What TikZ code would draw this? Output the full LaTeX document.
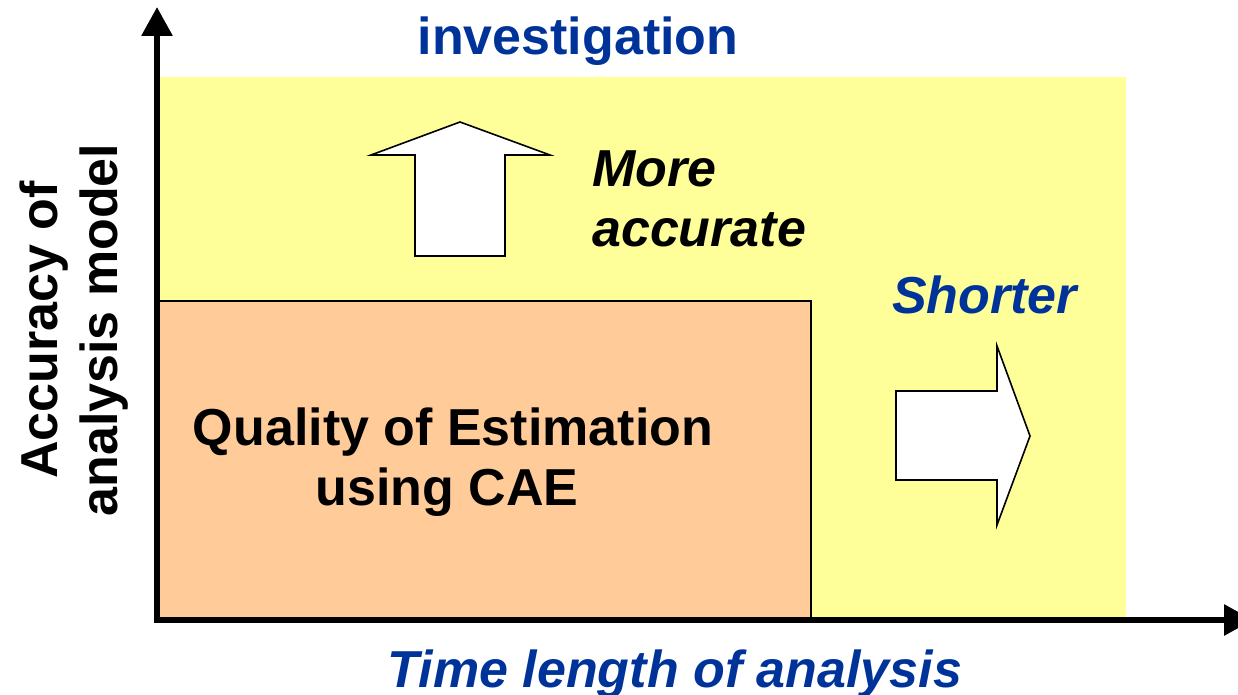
\documentclass[tikz,border=0pt]{standalone}
\usepackage{fontspec}
\setmainfont{Liberation Sans}
\usetikzlibrary{arrows.meta}
\definecolor{bgyellow}{HTML}{FFFF99}
\definecolor{boxorange}{HTML}{FFCC99}
\definecolor{txtblue}{HTML}{003399}
\begin{document}
\begin{tikzpicture}[x=1pt,y=-1pt,
  big/.style={font=\fontsize{52}{60}\selectfont\bfseries, inner sep=0pt},
  bigit/.style={font=\fontsize{52}{60}\selectfont\bfseries\itshape, inner sep=0pt},
  axisline/.style={line width=6pt, -{Triangle[width=30pt,length=29pt]}},
  fatarrow/.style={draw=black, fill=white, line width=1.6pt, line join=miter}]
\useasboundingbox (0,0) rectangle (1238,695);
% background regions
\fill[bgyellow] (157,77) rectangle (1126,620);
\draw[fill=boxorange, line width=2.5pt] (157,620) -- (157,301) -- (811,301) -- (811,620);
% axes
\coordinate (o) at (157,620);
\coordinate (ytop) at (157,7);
\coordinate (xend) at (1253,620);
\draw[axisline] (o) -- (ytop);
\draw[axisline] (154,620) -- (xend);
% fat arrows
\draw[fatarrow] (460,122) -- (550,155) -- (505,155) -- (505,256) -- (415,256) -- (415,155) -- (371,155) -- cycle;
\draw[fatarrow] (896,391) -- (997,391) -- (997,346) -- (1030,436) -- (997,525) -- (997,480) -- (896,480) -- cycle;
% texts
\node[big, text=txtblue, anchor=base] (inv) at (578,55) {investigation};
\node[bigit, anchor=base west] (more) at (592,186) {More};
\node[bigit, anchor=base west] (acc) at (592,246) {accurate};
\node[bigit, text=txtblue, anchor=base west] (short) at (892,313) {Shorter};
\node[bigit, text=txtblue, anchor=base] (time) at (675,687) {Time length of analysis};
\node[big, anchor=base] (q1) at (453,445) {Quality of Estimation};
\node[big, anchor=base] (q2) at (447,505) {using CAE};
\node[big, anchor=base, rotate=90] (ya) at (57,330) {Accuracy of};
\node[big, anchor=base, rotate=90] (yb) at (117,330) {analysis model};
\end{tikzpicture}
\end{document}
